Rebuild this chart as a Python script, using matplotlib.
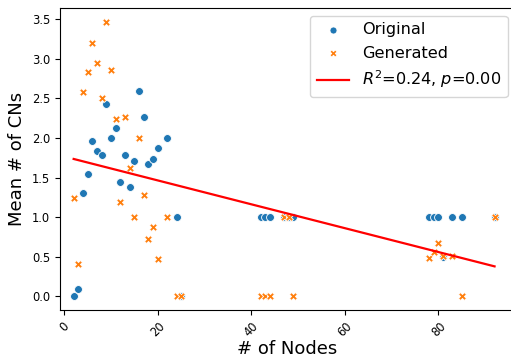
import matplotlib
matplotlib.use('Agg')
import matplotlib.pyplot as plt
import numpy as np

# node counts shared by both sets
nodes = [2, 3, 4, 5, 6, 7, 8, 9, 10, 11, 12, 13, 14, 15, 16, 17, 18, 19, 20,
         22, 24, 25, 42, 43, 44, 47, 48, 49, 78, 79, 80, 81, 83, 85, 92]
original_cns = [0.00, 0.09, 1.31, 1.54, 1.96, 1.84, 1.79, 2.43, 2.00, 2.13,
                1.44, 1.78, 1.38, 1.71, 2.59, 2.26, 1.67, 1.74, 1.87,
                2.00, 1.00, 0.00, 1.00, 1.00, 1.00, 1.00, 1.00, 1.00,
                1.00, 1.00, 1.00, 0.50, 1.00, 1.00, 1.00]
generated_cns = [1.24, 0.41, 2.58, 2.84, 3.20, 2.95, 2.50, 3.47, 2.86, 2.24,
                 1.19, 2.26, 1.62, 1.00, 2.00, 1.28, 0.73, 0.87, 0.47,
                 1.00, 0.00, 0.00, 0.00, 0.00, 0.00, 1.00, 1.00, 0.00,
                 0.48, 0.56, 0.67, 0.51, 0.51, 0.00, 1.00]
r2_text = '0.24'
p_text = '0.00'

blue = '#1f77b4'
orange = '#ff7f0e'

fig = plt.figure(figsize=(5.11, 3.58), dpi=100)
ax = fig.add_axes([0.1174, 0.1341, 0.8916, 0.8436])

ax.scatter(nodes, original_cns, s=32, marker='o', color=blue,
           edgecolors='white', linewidths=0.6, label='Original', zorder=2)
ax.scatter(nodes, generated_cns, s=32, marker='X', color=orange,
           edgecolors='white', linewidths=0.6, label='Generated', zorder=3)

# linear fit over both sets
all_x = np.array(nodes + nodes, dtype=float)
all_y = np.array(original_cns + generated_cns)
slope, intercept = np.polyfit(all_x, all_y, 1)
fx = np.array([all_x.min(), all_x.max()])
ax.plot(fx, slope * fx + intercept, color='red', lw=1.6,
        label=r'$R^2$=' + r2_text + r', $p$=' + p_text, zorder=4)

ax.set_xlim(-0.92, 96.5)
ax.set_xlabel('# of Nodes', fontsize=13)
ax.set_ylabel('Mean # of CNs', fontsize=13)
ax.xaxis.set_label_coords(0.498, -0.10)
ax.tick_params(labelsize=8.3)
plt.setp(ax.get_xticklabels(), rotation=45)
ax.legend(loc='upper right', fontsize=11.6, markerscale=0.9)

fig.savefig('out.png', dpi=100)
